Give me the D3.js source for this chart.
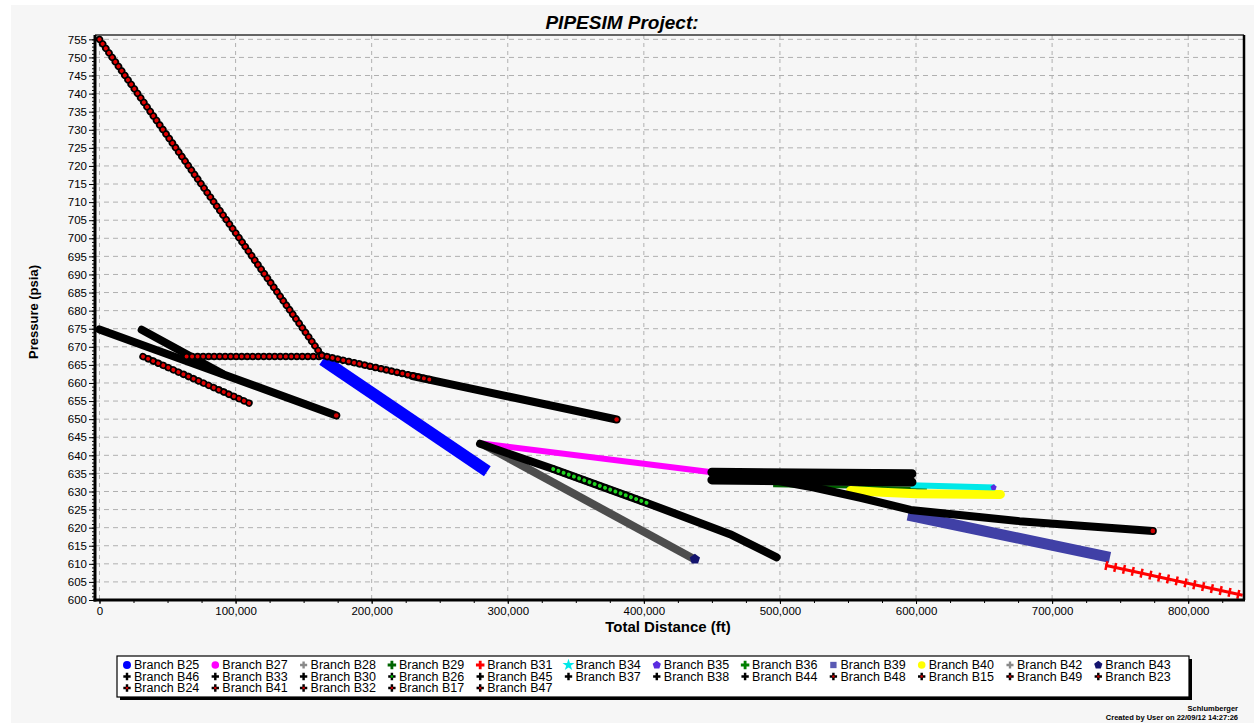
<!DOCTYPE html>
<html>
<head>
<meta charset="utf-8">
<script src="https://d3js.org/d3.v7.min.js"></script>
<style>
body { margin: 0; background: #fff; }
svg { display: block; font-family: Arial, "Liberation Sans", sans-serif; }
</style>
</head>
<body>
<svg id="chart" width="1254" height="723"></svg>
<script>
// branch profiles: distance (ft) and pressure (psia)
// order here is also the drawing order (later = on top)
var seriesNames = ['B28', 'B25', 'B27', 'B29', 'B40', 'B34', 'B39', 'B33', 'B45', 'B37',
                   'B30', 'B26', 'B24', 'B41', 'B47', 'B15', 'B17', 'B23', 'B32', 'B31',
                   'B43', 'B35'];
var seriesDistance = [
    [283000, 436500],                              // B28
    [164000, 285000],                              // B25
    [281000, 450000],                              // B27
    [495000, 608000],                              // B29
    [552000, 575000, 600000, 662000],              // B40
    [596000, 658000],                              // B34
    [594000, 742500],                              // B39
    [450000, 597000],                              // B33
    [450000, 597000],                              // B45
    [497000, 525000, 560000, 596000, 676000, 774000], // B37
    [279600, 333400, 403200, 463300, 497600],      // B30
    [333400, 403200],                              // B26
    [0, 174000],                                   // B24
    [31000, 90000],                                // B41
    [230000, 380000],                              // B47
    [0, 163300],                                   // B15
    [64000, 163300],                               // B17
    [32000, 112500],                               // B23
    [163300, 245300],                              // B32
    [739000, 840000],                              // B31
    [437500],                                      // B43
    [657000]                                       // B35
];
var seriesPressure = [
    [642.8, 611.4],
    [666.4, 635.6],
    [643.3, 635.3],
    [631.6, 630.9],
    [630.3, 629.8, 629.4, 629.2],
    [631.7, 631.1],
    [623.5, 611.8],
    [635.3, 634.9],
    [633.2, 632.6],
    [633.0, 631.1, 628.2, 624.9, 621.8, 619.1],
    [643.2, 636.2, 626.7, 618.2, 611.8],
    [636.2, 626.7],
    [674.8, 651.0],
    [674.7, 662.6],
    [661.9, 649.9],
    [755.0, 667.6],
    [667.3, 667.3],
    [667.3, 654.0],
    [667.6, 660.7],
    [609.6, 601.3],
    [611.3],
    [631.1]
];

var legendRows = [
    ['B25', 'B27', 'B28', 'B29', 'B31', 'B34', 'B35', 'B36', 'B39', 'B40', 'B42', 'B43'],
    ['B46', 'B33', 'B30', 'B26', 'B45', 'B37', 'B38', 'B44', 'B48', 'B15', 'B49', 'B23'],
    ['B24', 'B41', 'B32', 'B17', 'B47']
];

var xTickValues = [0, 100000, 200000, 300000, 400000, 500000, 600000, 700000, 800000];
var yTickValues = d3.range(600, 756, 5);

var svg = d3.select('#chart');
var svgWidth = +svg.attr('width');
var svgHeight = +svg.attr('height');

// plot frame
var plotLeft = 95, plotRight = 1244, plotTop = 35, plotBottom = 600;

var x = d3.scaleLinear().domain([-3300, 841000]).range([plotLeft, plotRight]);
var y = d3.scaleLinear().domain([600, 756.2]).range([plotBottom, plotTop]);

// grey panel behind everything
svg.append('rect')
    .attr('x', 11).attr('y', 5)
    .attr('width', svgWidth - 11).attr('height', svgHeight - 5)
    .attr('fill', '#f6f6f6');

// dashed grid
var grid = svg.append('g').attr('class', 'grid');
yTickValues.slice(1).forEach(function (v) {
    grid.append('line')
        .attr('x1', plotLeft).attr('x2', plotRight)
        .attr('y1', y(v)).attr('y2', y(v))
        .attr('stroke', '#b0b0b0').attr('stroke-width', 1)
        .attr('stroke-dasharray', '5,4');
});
xTickValues.forEach(function (v) {
    grid.append('line')
        .attr('x1', x(v)).attr('x2', x(v))
        .attr('y1', plotTop).attr('y2', plotBottom)
        .attr('stroke', '#b0b0b0').attr('stroke-width', 1)
        .attr('stroke-dasharray', '4,4');
});

// how each branch is drawn
var look = {
    B28: { kind: 'band', color: '#4d4d4d', width: 8 },
    B25: { kind: 'band', color: '#0000ff', width: 12 },
    B27: { kind: 'band', color: '#ff00ff', width: 6 },
    B29: { kind: 'band', color: '#006400', width: 3 },
    B40: { kind: 'band', color: '#ffff00', width: 9, cap: 'round' },
    B34: { kind: 'band', color: '#00e8e8', width: 6 },
    B39: { kind: 'band', color: '#4040a6', width: 11 },
    B33: { kind: 'dense', width: 9 },
    B45: { kind: 'dense', width: 9 },
    B37: { kind: 'dense', end: true },
    B30: { kind: 'dense' },
    B26: { kind: 'dots', color: '#1fd21f' },
    B24: { kind: 'dense', end: true },
    B41: { kind: 'dense' },
    B47: { kind: 'dense', end: true },
    B15: { kind: 'dots', color: '#e00000' },
    B17: { kind: 'dots', color: '#e00000' },
    B23: { kind: 'dots', color: '#e00000' },
    B32: { kind: 'dots', color: '#e00000' },
    B31: { kind: 'cross', color: '#ff0000' },
    B43: { kind: 'point', color: '#14146e', size: 70 },
    B35: { kind: 'point', color: '#5a2be0', size: 25 }
};

var symbolPentagon = {
    draw: function (ctx, size) {
        var r = Math.sqrt(size / 2.4);
        for (var k = 0; k < 5; k++) {
            var a = -Math.PI / 2 + k * 2 * Math.PI / 5;
            if (k === 0) ctx.moveTo(r * Math.cos(a), r * Math.sin(a));
            else ctx.lineTo(r * Math.cos(a), r * Math.sin(a));
        }
        ctx.closePath();
    }
};

var line = d3.line()
    .x(function (d) { return x(d[0]); })
    .y(function (d) { return y(d[1]); });

var marks = svg.append('g').attr('class', 'series');

seriesNames.forEach(function (name, i) {
    var pts = d3.zip(seriesDistance[i], seriesPressure[i]);
    var s = look[name];
    var g = marks.append('g').attr('class', 'branch-' + name);

    if (s.kind === 'band') {
        g.append('path').attr('d', line(pts))
            .attr('fill', 'none').attr('stroke', s.color)
            .attr('stroke-width', s.width)
            .attr('stroke-linecap', s.cap || 'butt')
            .attr('stroke-linejoin', 'round');
    } else if (s.kind === 'dense') {
        g.append('path').attr('d', line(pts))
            .attr('fill', 'none').attr('stroke', '#000')
            .attr('stroke-width', s.width || 8)
            .attr('stroke-linecap', 'round')
            .attr('stroke-linejoin', 'round');
        if (s.end) {
            var last = pts[pts.length - 1];
            g.append('circle')
                .attr('cx', x(last[0])).attr('cy', y(last[1]))
                .attr('r', 2.3).attr('fill', '#d00000');
        }
    } else if (s.kind === 'dots') {
        // black outlined markers packed along the profile
        g.append('path').attr('d', line(pts))
            .attr('fill', 'none').attr('stroke', '#000')
            .attr('stroke-width', 7.5)
            .attr('stroke-linecap', 'round')
            .attr('stroke-dasharray', '0.01,5.5');
        g.append('path').attr('d', line(pts))
            .attr('fill', 'none').attr('stroke', s.color)
            .attr('stroke-width', 4)
            .attr('stroke-linecap', 'round')
            .attr('stroke-dasharray', '0.01,5.5');
    } else if (s.kind === 'cross') {
        g.append('path').attr('d', line(pts))
            .attr('fill', 'none').attr('stroke', s.color)
            .attr('stroke-width', 3);
        g.append('path').attr('d', line(pts))
            .attr('fill', 'none').attr('stroke', s.color)
            .attr('stroke-width', 9)
            .attr('stroke-dasharray', '2.5,6.5');
    } else if (s.kind === 'point') {
        pts.forEach(function (p) {
            g.append('path')
                .attr('d', d3.symbol().type(symbolPentagon).size(s.size)())
                .attr('transform', 'translate(' + x(p[0]) + ',' + y(p[1]) + ')')
                .attr('fill', s.color);
        });
    }
});

// axes
var yMinor = svg.append('g')
    .attr('transform', 'translate(' + plotLeft + ',0)')
    .call(d3.axisLeft(y).tickValues(d3.range(600, 756, 1)).tickSize(3).tickFormat(''));
var yAxis = svg.append('g')
    .attr('transform', 'translate(' + plotLeft + ',0)')
    .call(d3.axisLeft(y).tickValues(yTickValues).tickSize(6).tickPadding(2)
        .tickFormat(d3.format('d')));
var xMinor = svg.append('g')
    .attr('transform', 'translate(0,' + plotBottom + ')')
    .call(d3.axisBottom(x).tickValues(d3.range(0, 841000, 25000)).tickSize(3).tickFormat(''));
var xAxis = svg.append('g')
    .attr('transform', 'translate(0,' + plotBottom + ')')
    .call(d3.axisBottom(x).tickValues(xTickValues).tickSize(4).tickPadding(3)
        .tickFormat(d3.format(',')));

[yMinor, yAxis, xMinor, xAxis].forEach(function (a) {
    a.select('.domain').remove();
    a.selectAll('line').attr('stroke', '#000').attr('stroke-width', 1);
    a.selectAll('text')
        .attr('font-family', 'Arial, "Liberation Sans", sans-serif')
        .attr('font-size', 11.5).attr('fill', '#000');
});

// frame: thin top, heavy left / bottom / right
svg.append('line')
    .attr('x1', plotLeft).attr('x2', plotRight)
    .attr('y1', plotTop).attr('y2', plotTop)
    .attr('stroke', '#333').attr('stroke-width', 1.5);
svg.append('line')
    .attr('x1', plotRight).attr('x2', plotRight)
    .attr('y1', plotTop).attr('y2', plotBottom)
    .attr('stroke', '#000').attr('stroke-width', 2.5);
svg.append('line')
    .attr('x1', plotLeft).attr('x2', plotLeft)
    .attr('y1', plotTop).attr('y2', plotBottom + 1.5)
    .attr('stroke', '#000').attr('stroke-width', 3);
svg.append('line')
    .attr('x1', plotLeft - 1.5).attr('x2', plotRight + 1)
    .attr('y1', plotBottom).attr('y2', plotBottom)
    .attr('stroke', '#000').attr('stroke-width', 3);

// titles
svg.append('text')
    .attr('x', 622).attr('y', 29)
    .attr('text-anchor', 'middle')
    .attr('font-size', 19).attr('font-weight', 'bold').attr('font-style', 'italic')
    .text('PIPESIM Project:');

svg.append('text')
    .attr('transform', 'translate(38,312) rotate(-90)')
    .attr('text-anchor', 'middle')
    .attr('font-size', 13).attr('font-weight', 'bold')
    .text('Pressure (psia)');

svg.append('text')
    .attr('x', 668).attr('y', 632)
    .attr('text-anchor', 'middle')
    .attr('font-size', 15).attr('font-weight', 'bold')
    .text('Total Distance (ft)');

// legend
var legendX = 117, legendY = 656, legendW = 1072, legendH = 41;
svg.append('rect')
    .attr('x', legendX + 3).attr('y', legendY + 3)
    .attr('width', legendW).attr('height', legendH)
    .attr('fill', '#000');
svg.append('rect')
    .attr('x', legendX).attr('y', legendY)
    .attr('width', legendW).attr('height', legendH)
    .attr('fill', '#fff').attr('stroke', '#000').attr('stroke-width', 1.2);

var legendLook = {
    B25: [d3.symbolCircle, '#0000ff', 50],
    B27: [d3.symbolCircle, '#ff00ff', 45],
    B28: [d3.symbolCross, '#8a8a8a', 28],
    B29: [d3.symbolCross, '#006400', 40],
    B31: [d3.symbolCross, '#ff0000', 40],
    B34: [d3.symbolStar, '#00e8e8', 45],
    B35: [symbolPentagon, '#5a2be0', 45],
    B36: [d3.symbolCross, '#008000', 40],
    B39: [d3.symbolSquare, '#5a5ab4', 40],
    B40: [d3.symbolCircle, '#ffff00', 45],
    B42: [d3.symbolCross, '#8a8a8a', 28],
    B43: [symbolPentagon, '#14146e', 45]
};
var redCentre = ['B48', 'B15', 'B49', 'B23', 'B24', 'B41', 'B32', 'B17', 'B47'];

var colStep = 88.3, rowStep = 11.5;
legendRows.forEach(function (row, r) {
    row.forEach(function (name, c) {
        var mx = legendX + 10 + c * colStep;
        var my = legendY + 9 + r * rowStep;
        var lk = legendLook[name];
        if (lk) {
            svg.append('path')
                .attr('d', d3.symbol().type(lk[0]).size(lk[2])())
                .attr('transform', 'translate(' + mx + ',' + my + ')')
                .attr('fill', lk[1]);
        } else {
            svg.append('path')
                .attr('d', d3.symbol().type(d3.symbolCross).size(30)())
                .attr('transform', 'translate(' + mx + ',' + my + ')')
                .attr('fill', '#000');
            var centre = redCentre.indexOf(name) >= 0 ? '#d00000' : (name === 'B26' ? '#00c000' : null);
            if (centre) {
                svg.append('circle').attr('cx', mx).attr('cy', my).attr('r', 1.3).attr('fill', centre);
            }
        }
        svg.append('text')
            .attr('x', mx + 7).attr('y', my + 4.3)
            .attr('font-size', 12.5)
            .text('Branch ' + name);
    });
});

// footer
svg.append('text')
    .attr('x', 1238).attr('y', 711)
    .attr('text-anchor', 'end')
    .attr('font-size', 7.5).attr('font-weight', 'bold')
    .text('Schlumberger');
svg.append('text')
    .attr('x', 1238).attr('y', 720)
    .attr('text-anchor', 'end')
    .attr('font-size', 7.5).attr('font-weight', 'bold')
    .text('Created by User on 22/09/12 14:27:26');
</script>
</body>
</html>
